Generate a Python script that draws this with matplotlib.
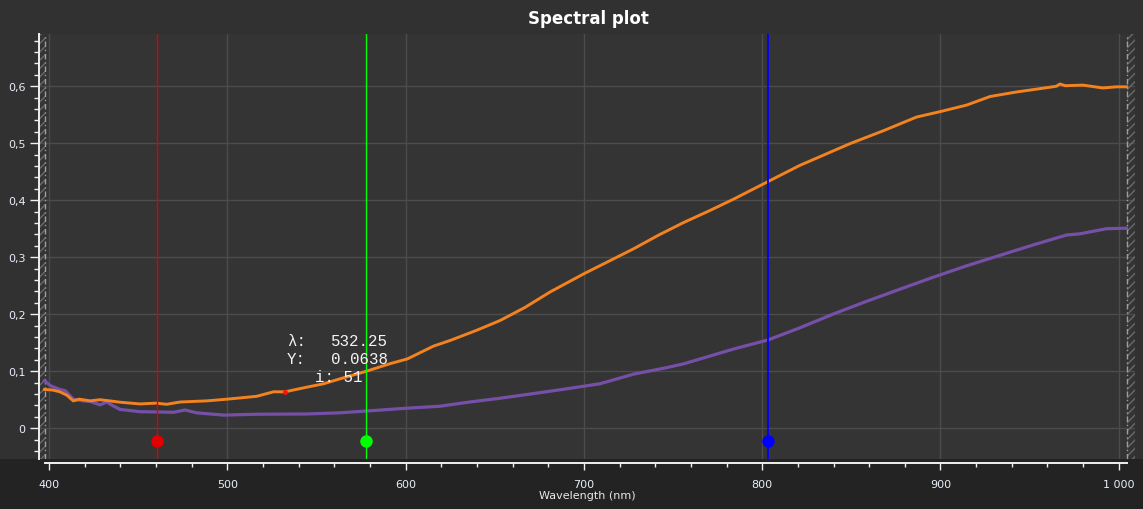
import matplotlib
matplotlib.use("Agg")
import matplotlib.pyplot as plt
from matplotlib.ticker import MultipleLocator, FuncFormatter
from matplotlib.patches import Rectangle

# ---------------- data ----------------
orange_wl = [397.5, 402, 406, 410, 413.6, 417, 423, 428.6, 434, 440, 451, 460, 466, 473.5,
             488.5, 500, 516.5, 526, 532.25, 544.5, 554, 563, 578, 591, 601, 615.6, 625, 640,
             653, 667, 681, 700, 714, 728, 742, 756, 770, 784, 803.4, 821, 835, 849, 868,
             886.6, 900.5, 914.7, 927.8, 942.7, 954, 965, 967, 970, 980, 991, 998.7, 1004.4]
orange_val = [0.068, 0.067, 0.064, 0.058, 0.048, 0.051, 0.048, 0.050, 0.048, 0.0456, 0.0426,
              0.044, 0.042, 0.046, 0.048, 0.051, 0.056, 0.064, 0.0638, 0.072, 0.078, 0.0865,
              0.100, 0.113, 0.1216, 0.144, 0.154, 0.172, 0.189, 0.212, 0.239, 0.271, 0.293,
              0.315, 0.339, 0.361, 0.381, 0.402, 0.433, 0.461, 0.480, 0.499, 0.522, 0.546,
              0.556, 0.567, 0.582, 0.590, 0.595, 0.600, 0.604, 0.601, 0.602, 0.597, 0.599, 0.599]

purple_wl = [397.5, 400.6, 406, 409, 413.6, 419, 423, 428.6, 432.4, 435, 439.8, 451, 470,
             476.3, 482.8, 498, 516.5, 544.5, 563, 582, 600, 619, 636, 653, 670, 690, 709,
             728, 746, 756, 784, 803.4, 821, 840, 858, 877.3, 896, 914.7, 933, 952, 970.7,
             978, 993, 1004.4]
purple_val = [0.0835, 0.075, 0.068, 0.066, 0.051, 0.048, 0.047, 0.041, 0.046, 0.041, 0.033,
              0.029, 0.028, 0.032, 0.027, 0.023, 0.0245, 0.025, 0.027, 0.031, 0.035, 0.0385,
              0.046, 0.0526, 0.060, 0.069, 0.078, 0.095, 0.106, 0.113, 0.139, 0.155, 0.176,
              0.2005, 0.222, 0.244, 0.265, 0.285, 0.303, 0.3216, 0.339, 0.341, 0.350, 0.351]

marker_wl = [460.7, 577.8, 803.4]
marker_colors = ["#e00000", "#00ff00", "#0000ff"]
marker_y = -0.022

data_range = [397.5, 1004.4]
cursor_wl = 532.25
cursor_val = 0.0638
cursor_idx = 51

x_limits = [394.95, 1009.1]
y_limits = [-0.054, 0.6917]

# ---------------- figure ----------------
W, H = 1143, 510
fig = plt.figure(figsize=(W / 100, H / 100), dpi=100)
fig.patch.set_facecolor("#313131")
fig.patches.append(Rectangle((0, 0), 1, (H - 460) / H, transform=fig.transFigure,
                             facecolor="#232323", edgecolor="none", zorder=-5))

ax = fig.add_axes([40 / W, 1 - 460 / H, (1135 - 40) / W, (460 - 35) / H])
ax.set_zorder(2)
ax.set_facecolor("#343434")
ax.set_xlim(*x_limits)
ax.set_ylim(*y_limits)

# grid
ax.xaxis.set_major_locator(MultipleLocator(100))
ax.xaxis.set_minor_locator(MultipleLocator(20))
ax.yaxis.set_major_locator(MultipleLocator(0.1))
ax.yaxis.set_minor_locator(MultipleLocator(0.02))
ax.grid(True, which="major", color="#4c4c4c", linewidth=1.0)
ax.set_axisbelow(True)

# hatched out-of-range regions
for a, b in [(x_limits[0], data_range[0]), (data_range[1], x_limits[1])]:
    ax.axvspan(a, b, facecolor="none", edgecolor="#6a6a6a", hatch="////", linewidth=0, zorder=1)
for xv in data_range:
    ax.axvline(xv, color="#a0a0a0", linestyle=(0, (4, 2, 1, 2)), linewidth=1.0, zorder=2)

# curves
ax.plot(purple_wl, purple_val, color="#7650a8", linewidth=2.3, zorder=4, solid_joinstyle="round")
ax.plot(orange_wl, orange_val, color="#f4831f", linewidth=2.1, zorder=5, solid_joinstyle="round")

# vertical marker lines
widths = [1.0, 1.0, 1.3]
for wl, c, lw in zip(marker_wl, marker_colors, widths):
    ax.axvline(wl, color=c, linewidth=lw, zorder=6)
    ax.plot([wl], [marker_y], "o", color=c, markersize=9, zorder=7, markeredgewidth=0)

# cursor point and annotation
ax.plot([cursor_wl], [cursor_val], "o", color="#ff1010", markersize=3.5, zorder=8, markeredgewidth=0)
mono = dict(family="Liberation Mono", fontsize=11.3, color="#f4f4f4", va="center", zorder=9)
px = 0.72
ax.annotate("λ:", (cursor_wl, cursor_val), xytext=(2 * px, 51 * px), textcoords="offset points", **mono)
ax.annotate(f"{cursor_wl:.2f}", (cursor_wl, cursor_val), xytext=(46 * px, 51 * px), textcoords="offset points", **mono)
ax.annotate("Y:", (cursor_wl, cursor_val), xytext=(2 * px, 33 * px), textcoords="offset points", **mono)
ax.annotate(f"{cursor_val:.4f}", (cursor_wl, cursor_val), xytext=(46 * px, 33 * px), textcoords="offset points", **mono)
ax.annotate(f"i: {cursor_idx}", (cursor_wl, cursor_val), xytext=(30 * px, 15 * px), textcoords="offset points", **mono)

# spines / ticks
for s in ["top", "right"]:
    ax.spines[s].set_visible(False)
ax.spines["bottom"].set_position(("outward", 3))
ax.spines["left"].set_position(("outward", 1))
ax.spines["bottom"].set_bounds(data_range[0], data_range[1])
for s in ["bottom", "left"]:
    ax.spines[s].set_color("#f0f0f0")
    ax.spines[s].set_linewidth(1.4)

ax.tick_params(axis="x", which="major", direction="out", length=5, width=1, color="#f0f0f0",
               labelcolor="#e8eef8", labelsize=8, pad=6.5)
ax.tick_params(axis="x", which="minor", direction="out", length=3, width=1, color="#f0f0f0")
ax.tick_params(axis="y", which="major", direction="out", length=6.5, width=1, color="#f0f0f0",
               labelcolor="#e8eef8", labelsize=8, pad=3)
ax.tick_params(axis="y", which="minor", direction="out", length=3.3, width=1, color="#f0f0f0")


def xfmt(v, pos):
    s = f"{int(round(v)):,}".replace(",", " ")
    return s


def yfmt(v, pos):
    if abs(v) < 1e-9:
        return "0"
    return f"{v:.1f}".replace(".", ",")


ax.xaxis.set_major_formatter(FuncFormatter(xfmt))
ax.yaxis.set_major_formatter(FuncFormatter(yfmt))

ax.set_xlabel("Wavelength (nm)", fontsize=8, color="#e8e8e8", labelpad=0.5)
fig.text(588 / W, 1 - 19 / H, "Spectral plot", ha="center", va="center",
         fontsize=12, fontweight="bold", color="#ffffff")

fig.savefig("out.png", dpi=100, facecolor=fig.get_facecolor())
